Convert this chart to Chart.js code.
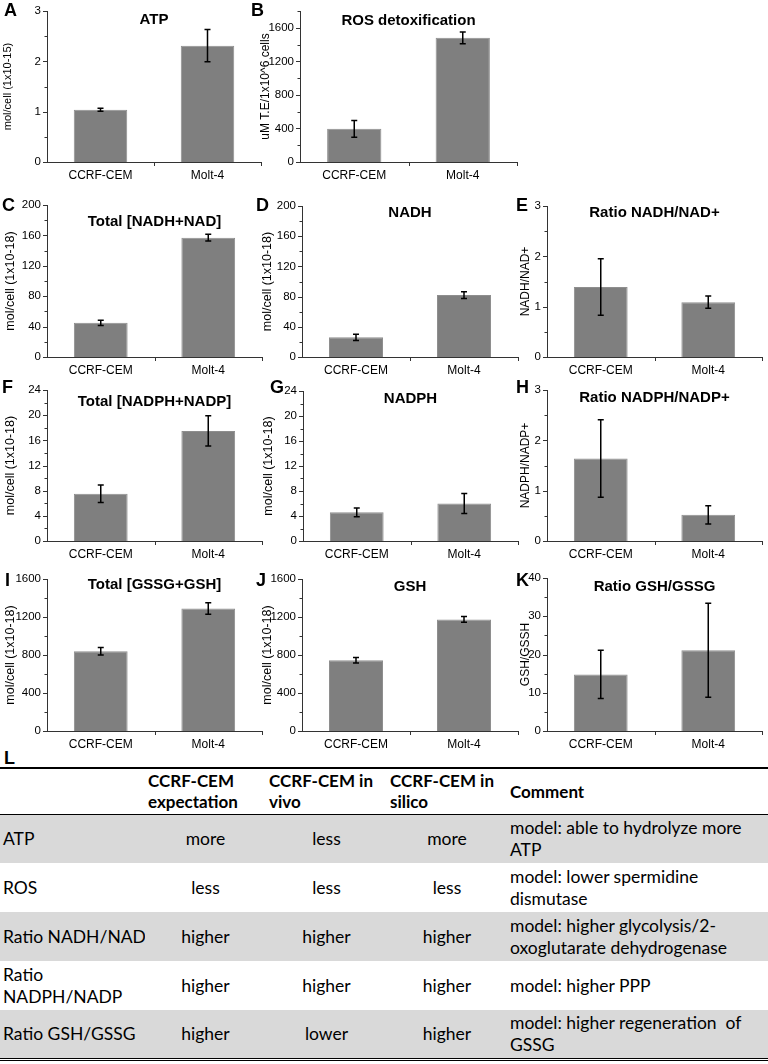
<!DOCTYPE html>
<html>
<head>
<meta charset="utf-8">
<script src="https://cdn.jsdelivr.net/npm/chart.js@4.4.1/dist/chart.umd.min.js"></script>
<style>
  html, body { margin: 0; padding: 0; background: #fff; }
  body { position: relative; width: 768px; height: 1064px; overflow: hidden; font-family: "Liberation Sans", Arial, sans-serif; }
  canvas { position: absolute; }
  .letter { position: absolute; font: bold 18px/18px "Liberation Sans", Arial, sans-serif; color: #000; }
  #tbl { position: absolute; left: 0; top: 767px; width: 768px; }
  table { border-collapse: collapse; table-layout: fixed; width: 768px; font-family: Lato, "Open Sans", sans-serif; font-size: 17.5px; line-height: 22px; color: #000; }
  td, th { padding: 0 0 0 3px; vertical-align: middle; white-space: nowrap; overflow: hidden; }
  thead tr { height: 46px; border-top: 2px solid #000; border-bottom: 1px solid #000; }
  thead th { font-weight: bold; text-align: left; font-size: 17px; line-height: 21px; }
  tbody tr { height: 49px; }
  tbody tr.shade { background: #d9d9d9; }
  tbody tr:last-child { border-bottom: 3px double #000; }
  td.c { text-align: center; padding: 0; }
</style>
</head>
<body>

<div id="tbl">
<table>
  <colgroup>
    <col style="width:145px"><col style="width:121px"><col style="width:121px"><col style="width:120px"><col style="width:261px">
  </colgroup>
  <thead>
    <tr><th></th><th>CCRF-CEM<br>expectation</th><th>CCRF-CEM in<br>vivo</th><th>CCRF-CEM in<br>silico</th><th>Comment</th></tr>
  </thead>
  <tbody>
    <tr class="shade"><td>ATP</td><td class="c">more</td><td class="c">less</td><td class="c">more</td><td>model: able to hydrolyze more<br>ATP</td></tr>
    <tr><td>ROS</td><td class="c">less</td><td class="c">less</td><td class="c">less</td><td>model: lower spermidine<br>dismutase</td></tr>
    <tr class="shade"><td>Ratio NADH/NAD</td><td class="c">higher</td><td class="c">higher</td><td class="c">higher</td><td>model: higher glycolysis/2-<br>oxoglutarate dehydrogenase</td></tr>
    <tr><td>Ratio<br>NADPH/NADP</td><td class="c">higher</td><td class="c">higher</td><td class="c">higher</td><td>model: higher PPP</td></tr>
    <tr class="shade"><td>Ratio GSH/GSSG</td><td class="c">higher</td><td class="c">lower</td><td class="c">higher</td><td>model: higher regeneration &nbsp;of<br>GSSG</td></tr>
  </tbody>
</table>
</div>
<div class="letter" style="left:4px;top:749px">L</div>

<script>
// Categories shared by all panels
const categories = ['CCRF-CEM', 'Molt-4'];

// Means and error bars
const atpMean = [1.04, 2.31];
const atpErr = [0.03, 0.32];
const rosMean = [395, 1480];
const rosErr = [100, 70];
const nadTotalMean = [45, 157];
const nadTotalErr = [3.5, 4.5];
const nadhMean = [26, 82];
const nadhErr = [4, 4.5];
const nadRatioMean = [1.39, 1.09];
const nadRatioErr = [0.56, 0.12];
const nadpTotalMean = [7.5, 17.5];
const nadpTotalErr = [1.4, 2.4];
const nadphMean = [4.6, 6.0];
const nadphErr = [0.7, 1.6];
const nadpRatioMean = [1.64, 0.52];
const nadpRatioErr = [0.77, 0.18];
const gsTotalMean = [840, 1290];
const gsTotalErr = [40, 60];
const gshMean = [745, 1175];
const gshErr = [30, 30];
const gsRatioMean = [14.8, 21.1];
const gsRatioErr = [6.3, 12.3];

// Panel layout: plot area [left, top, right, bottom], y-title x, title offset, letter pos
const panels = [
    { id: 'A', title: 'ATP', yTitle: 'mol/cell (1x10-15)', yTitleSize: 11, mean: atpMean, err: atpErr, max: 3, step: 1, area: [47, 11, 261, 162], labelX: 8, titleDy: 9, letter: [4, 1] },
    { id: 'B', title: 'ROS detoxification', yTitle: 'uM T.E/1x10^6 cells', yTitleSize: 12, mean: rosMean, err: rosErr, max: 1800, step: 400, area: [300, 11, 517, 162], labelX: 265, titleDy: 10, letter: [251, 1] },
    { id: 'C', title: 'Total [NADH+NAD]', yTitle: 'mol/cell (1x10-18)', yTitleSize: 12.5, mean: nadTotalMean, err: nadTotalErr, max: 200, step: 40, area: [47, 205, 262, 357], labelX: 10, titleDy: 17, letter: [2, 196] },
    { id: 'D', title: 'NADH', yTitle: 'mol/cell (1x10-18)', yTitleSize: 12.5, mean: nadhMean, err: nadhErr, max: 200, step: 40, area: [302, 206, 518, 357], labelX: 267, titleDy: 7, letter: [256, 196] },
    { id: 'E', title: 'Ratio NADH/NAD+', yTitle: 'NADH/NAD+', yTitleSize: 12, mean: nadRatioMean, err: nadRatioErr, max: 3, step: 1, area: [547, 206, 762, 357], labelX: 525, titleDy: 7, letter: [516, 196] },
    { id: 'F', title: 'Total [NADPH+NADP]', yTitle: 'mol/cell (1x10-18)', yTitleSize: 12.5, mean: nadpTotalMean, err: nadpTotalErr, max: 24, step: 4, area: [47, 390, 262, 541], labelX: 10, titleDy: 12, letter: [2, 378] },
    { id: 'G', title: 'NADPH', yTitle: 'mol/cell (1x10-18)', yTitleSize: 12.5, mean: nadphMean, err: nadphErr, max: 24, step: 4, area: [303, 391, 518, 541], labelX: 268, titleDy: 8, letter: [270, 378] },
    { id: 'H', title: 'Ratio NADPH/NADP+', yTitle: 'NADPH/NADP+', yTitleSize: 12, mean: nadpRatioMean, err: nadpRatioErr, max: 3, step: 1, area: [547, 390, 762, 541], labelX: 525, titleDy: 8, letter: [516, 378] },
    { id: 'I', title: 'Total [GSSG+GSH]', yTitle: 'mol/cell (1x10-18)', yTitleSize: 12.5, mean: gsTotalMean, err: gsTotalErr, max: 1600, step: 400, area: [47, 579, 262, 731], labelX: 10, titleDy: 6, letter: [5, 571] },
    { id: 'J', title: 'GSH', yTitle: 'mol/cell (1x10-18)', yTitleSize: 12.5, mean: gshMean, err: gshErr, max: 1600, step: 400, area: [302, 579, 518, 731], labelX: 267, titleDy: 8, letter: [256, 571] },
    { id: 'K', title: 'Ratio GSH/GSSG', yTitle: 'GSH/GSSH', yTitleSize: 12, mean: gsRatioMean, err: gsRatioErr, max: 40, step: 10, area: [547, 578, 762, 731], labelX: 525, titleDy: 9, letter: [516, 571] }
];

const FONT = '"Liberation Sans", Arial, sans-serif';
Chart.defaults.color = '#000';
Chart.defaults.font.family = FONT;

// Error bars, Origin-style tick marks and the in-plot title
const originPlugin = {
    id: 'origin',
    afterDatasetsDraw(chart) {
        const p = chart.options.plugins.origin;
        const ctx = chart.ctx;
        const ys = chart.scales.y;
        const ca = chart.chartArea;
        const meta = chart.getDatasetMeta(0);

        ctx.save();
        ctx.strokeStyle = '#000';
        ctx.lineWidth = 1.5;
        meta.data.forEach((bar, i) => {
            const v = chart.data.datasets[0].data[i];
            const top = ys.getPixelForValue(v + p.err[i]);
            const bot = ys.getPixelForValue(v - p.err[i]);
            ctx.beginPath();
            ctx.moveTo(bar.x, top); ctx.lineTo(bar.x, bot);
            ctx.moveTo(bar.x - 3, top); ctx.lineTo(bar.x + 3, top);
            ctx.moveTo(bar.x - 3, bot); ctx.lineTo(bar.x + 3, bot);
            ctx.stroke();
        });

        // y ticks: major at labels, minor halfway
        ctx.lineWidth = 1;
        ctx.strokeStyle = '#333';
        const half = p.step / 2;
        for (let k = 0; k * half <= ys.max + 1e-9; k++) {
            const py = Math.round(ys.getPixelForValue(k * half)) + 0.5;
            const len = (k % 2 === 0) ? 4 : 2.5;
            ctx.beginPath();
            ctx.moveTo(ca.left, py); ctx.lineTo(ca.left - len, py);
            ctx.stroke();
        }
        // x ticks between categories and at the end
        [ (ca.left + ca.right) / 2, ca.right - 0.5 ].forEach(px => {
            ctx.beginPath();
            ctx.moveTo(Math.round(px) + 0.5, ca.bottom);
            ctx.lineTo(Math.round(px) + 0.5, ca.bottom + 4);
            ctx.stroke();
        });
        ctx.restore();

        ctx.save();
        ctx.fillStyle = '#000';
        ctx.font = 'bold 15px ' + FONT;
        ctx.textAlign = 'center';
        ctx.textBaseline = 'middle';
        ctx.fillText(p.title, (ca.left + ca.right) / 2, ca.top + p.titleDy);
        ctx.restore();
    }
};

panels.forEach(pn => {
    const [l, t, r, b] = pn.area;
    const left = pn.labelX - 7;
    const top = t - 15;
    const w = r - left + 6;
    const h = b - t + 15 + 30;

    const canvas = document.createElement('canvas');
    canvas.width = w;
    canvas.height = h;
    canvas.style.left = left + 'px';
    canvas.style.top = top + 'px';
    canvas.style.width = w + 'px';
    canvas.style.height = h + 'px';
    document.body.appendChild(canvas);

    const letter = document.createElement('div');
    letter.className = 'letter';
    letter.textContent = pn.id;
    letter.style.left = pn.letter[0] + 'px';
    letter.style.top = pn.letter[1] + 'px';
    document.body.appendChild(letter);

    new Chart(canvas.getContext('2d'), {
        type: 'bar',
        data: {
            labels: categories,
            datasets: [{
                data: pn.mean,
                backgroundColor: '#7f7f7f',
                borderColor: '#8e8e8e',
                borderWidth: 1,
                barPercentage: 0.5,
                categoryPercentage: 1.0
            }]
        },
        options: {
            responsive: false,
            animation: false,
            devicePixelRatio: 1,
            layout: { padding: { left: 0, top: 15, right: 6, bottom: 0 } },
            scales: {
                x: {
                    grid: { display: false, drawTicks: false },
                    border: { display: true, color: '#333', width: 1 },
                    ticks: { padding: 6, font: { size: 12 }, maxRotation: 0 },
                    afterFit: (s) => { s.height = 30; }
                },
                y: {
                    min: 0,
                    max: pn.max,
                    grid: { display: false, drawTicks: false },
                    border: { display: true, color: '#333', width: 1 },
                    ticks: { stepSize: pn.step, includeBounds: false, padding: 6, font: { size: 11.5 }, callback: (v) => String(v) },
                    title: { display: true, text: pn.yTitle, font: { size: pn.yTitleSize }, padding: 0 },
                    afterFit: (s) => { s.width = l - left; }
                }
            },
            plugins: {
                legend: { display: false },
                tooltip: { enabled: false },
                origin: { err: pn.err, step: pn.step, title: pn.title, titleDy: pn.titleDy }
            }
        },
        plugins: [originPlugin]
    });
});
</script>
</body>
</html>
